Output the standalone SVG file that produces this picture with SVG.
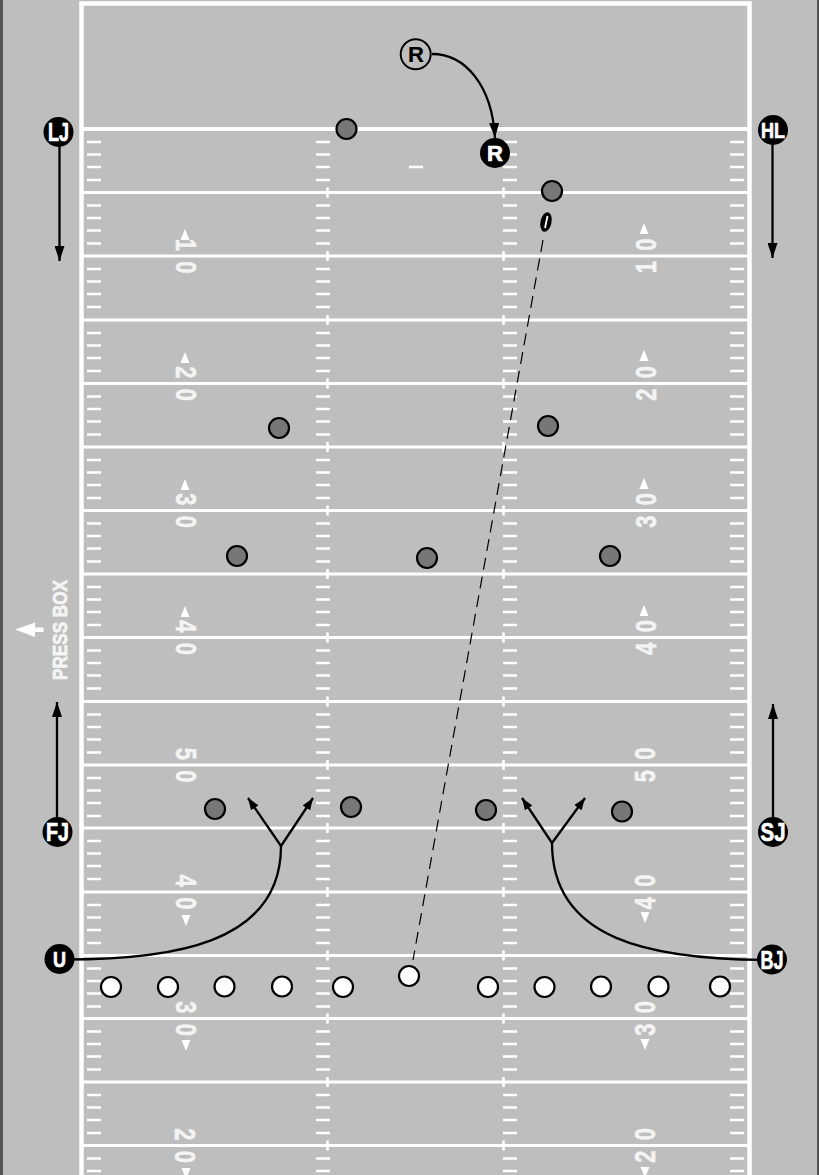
<svg xmlns="http://www.w3.org/2000/svg" xmlns:xlink="http://www.w3.org/1999/xlink" width="819" height="1175" viewBox="0 0 819 1175">
<style>
.yl{stroke:#fff;stroke-width:3;fill:none}
.t{stroke:#fff;stroke-width:2.600;fill:none}
.c{stroke:#000;stroke-width:2.300;fill:none}
.num{font-family:"Liberation Sans",Arial,sans-serif;font-weight:700;font-size:29px;letter-spacing:13.900px;fill:#f4f4f4;stroke:#f4f4f4;stroke-width:.6px}
.tri{fill:#fff}
.def{fill:#777;stroke:#000;stroke-width:2.200}
.off{fill:#fff;stroke:#000;stroke-width:2.200}
.off2{fill:#000}
.lab{font-family:"Liberation Sans",Arial,sans-serif;font-weight:700;fill:#fff;text-anchor:middle;stroke:#fff;stroke-width:.7px}
</style>
<defs>
<marker id="ah" markerUnits="userSpaceOnUse" viewBox="0 0 15 10" refX="15" refY="5" markerWidth="15" markerHeight="10" orient="auto"><path d="M0 0L15 5L0 10Z" fill="#000"/></marker>
<marker id="ahs" markerUnits="userSpaceOnUse" viewBox="0 0 12 9" refX="12" refY="4.5" markerWidth="12" markerHeight="9" orient="auto"><path d="M0 0L12 4.500L0 9Z" fill="#000"/></marker>
<path id="seg" class="t" d="M87 13h14M87 25.500h14M87 38h14M87 51h14M316 13h14M316 25.500h14M316 38h14M316 51h14M503 13h14M503 25.500h14M503 38h14M503 51h14M730 13h14M730 25.500h14M730 38h14M730 51h14"/>
<path id="cross" class="t" d="M327.500 -5v10M503.500 -5v10"/>
<path id="triU" class="tri" d="M0 0L4.500 11H-4.500Z"/>
<path id="triD" class="tri" d="M0 11L4.500 0H-4.500Z"/>
</defs>
<rect width="819" height="1175" fill="#bebebe"/>
<rect x="0" y="0" width="3" height="1175" fill="#555"/>
<rect x="817" y="0" width="2" height="1175" fill="#555"/>
<g id="field">
<path d="M81.500 1175V3.500H749.500V1175" fill="none" stroke="#fff" stroke-width="4.500"/>
<path class="yl" style="stroke-width:4" d="M82 129H748"/>
<path class="yl" d="M82 192.500H748M82 256H748M82 320H748M82 383.500H748M82 447H748M82 510.500H748M82 574H748M82 637.500H748M82 701.500H748M82 765H748M82 828H748M82 892H748M82 955.500H748M82 1018.500H748M82 1082H748M82 1145.500H748"/>
<use href="#seg" y="129"/><use href="#seg" y="192.500"/><use href="#seg" y="256"/><use href="#seg" y="320"/><use href="#seg" y="383.500"/><use href="#seg" y="447"/><use href="#seg" y="510.500"/><use href="#seg" y="574"/><use href="#seg" y="637.500"/><use href="#seg" y="701.500"/><use href="#seg" y="765"/><use href="#seg" y="828"/><use href="#seg" y="892"/><use href="#seg" y="955.500"/><use href="#seg" y="1018.500"/><use href="#seg" y="1082"/><use href="#seg" y="1145.500"/>
<use href="#cross" y="192.500"/><use href="#cross" y="256"/><use href="#cross" y="320"/><use href="#cross" y="383.500"/><use href="#cross" y="447"/><use href="#cross" y="510.500"/><use href="#cross" y="574"/><use href="#cross" y="637.500"/><use href="#cross" y="701.500"/><use href="#cross" y="765"/><use href="#cross" y="828"/><use href="#cross" y="892"/><use href="#cross" y="955.500"/><use href="#cross" y="1018.500"/><use href="#cross" y="1082"/><use href="#cross" y="1145.500"/>
<path class="t" d="M409 167h14"/>
<g class="num">
<text transform="translate(176,256) rotate(90) scale(.75,1)" x="-23.100">10</text>
<text transform="translate(176,383.500) rotate(90) scale(.75,1)" x="-23.100">20</text>
<text transform="translate(176,510.500) rotate(90) scale(.75,1)" x="-23.100">30</text>
<text transform="translate(176,637.500) rotate(90) scale(.75,1)" x="-23.100">40</text>
<text transform="translate(176,765) rotate(90) scale(.75,1)" x="-23.100">50</text>
<text transform="translate(176,892) rotate(90) scale(.75,1)" x="-23.100">40</text>
<text transform="translate(176,1018.500) rotate(90) scale(.75,1)" x="-23.100">30</text>
<text transform="translate(175,1145.500) rotate(90) scale(.75,1)" x="-23.100">20</text>
<text transform="translate(656,256) rotate(-90) scale(.75,1)" x="-23.100">10</text>
<text transform="translate(656,383.500) rotate(-90) scale(.75,1)" x="-23.100">20</text>
<text transform="translate(656,510.500) rotate(-90) scale(.75,1)" x="-23.100">30</text>
<text transform="translate(656,637.500) rotate(-90) scale(.75,1)" x="-23.100">40</text>
<text transform="translate(655,765) rotate(-90) scale(.75,1)" x="-23.100">50</text>
<text transform="translate(655,892) rotate(-90) scale(.75,1)" x="-23.100">40</text>
<text transform="translate(655,1018.500) rotate(-90) scale(.75,1)" x="-23.100">30</text>
<text transform="translate(655,1145.500) rotate(-90) scale(.75,1)" x="-23.100">20</text>
</g>
<use href="#triU" x="185" y="229"/><use href="#triU" x="185" y="352"/><use href="#triU" x="185" y="479"/><use href="#triU" x="185" y="606"/>
<use href="#triD" x="186" y="915"/><use href="#triD" x="186" y="1040"/><use href="#triD" x="186" y="1168"/>
<use href="#triU" x="644" y="223"/><use href="#triU" x="644" y="350"/><use href="#triU" x="644" y="478"/><use href="#triU" x="644" y="605"/>
<use href="#triD" x="645" y="912"/><use href="#triD" x="645" y="1039"/><use href="#triD" x="645" y="1167"/>
</g>
<g id="press-box">
<text transform="translate(67,680) rotate(-90)" font-family="'Liberation Sans',Arial,sans-serif" font-weight="700" font-size="21" fill="#f4f4f4" stroke="#f4f4f4" stroke-width=".8" textLength="100" lengthAdjust="spacingAndGlyphs">PRESS BOX</text>
<path d="M15 629.500L35 622.500V627.500H43.500V632H35V637Z" fill="#fff"/>
</g>
<g id="connectors">
<path class="c" marker-end="url(#ah)" d="M59.500 140V261"/>
<path class="c" marker-end="url(#ah)" d="M772.500 140V258"/>
<path class="c" marker-end="url(#ah)" d="M57 825V702"/>
<path class="c" marker-end="url(#ah)" d="M773 825V704"/>
<path class="c" marker-end="url(#ah)" d="M432 54C465 54 492 85 495 138"/>
<path class="c" d="M60 959.500C170 960 281 945 281 846"/>
<path class="c" marker-end="url(#ahs)" d="M281 846L248 798"/>
<path class="c" marker-end="url(#ahs)" d="M281 846L313 798"/>
<path class="c" d="M772 960C650 960 552 940 552 843"/>
<path class="c" marker-end="url(#ahs)" d="M552 843L522 798"/>
<path class="c" marker-end="url(#ahs)" d="M552 843L585 798"/>
<path d="M543 240L413 960" fill="none" stroke="#000" stroke-width="1.200" stroke-dasharray="12 7"/>
</g>
<g id="ball"><ellipse cx="546" cy="222" rx="5.500" ry="10" transform="rotate(12 546 222)" fill="#000"/><path d="M547.500 216L545 228" stroke="#fff" stroke-width="1.800"/></g>
<g id="def1"><circle class="def" cx="346.500" cy="129" r="10"/></g>
<g id="def2"><circle class="def" cx="552" cy="191" r="10"/></g>
<g id="def3"><circle class="def" cx="279" cy="428" r="10"/></g>
<g id="def4"><circle class="def" cx="548" cy="426" r="10"/></g>
<g id="def5"><circle class="def" cx="237" cy="556" r="10"/></g>
<g id="def6"><circle class="def" cx="427" cy="558" r="10"/></g>
<g id="def7"><circle class="def" cx="610" cy="556" r="10"/></g>
<g id="def8"><circle class="def" cx="215" cy="809" r="10"/></g>
<g id="def9"><circle class="def" cx="351" cy="807" r="10"/></g>
<g id="def10"><circle class="def" cx="486" cy="810" r="10"/></g>
<g id="def11"><circle class="def" cx="622" cy="811.500" r="10"/></g>
<g id="off1"><circle class="off" cx="111" cy="987" r="10"/></g>
<g id="off2"><circle class="off" cx="168" cy="987" r="10"/></g>
<g id="off3"><circle class="off" cx="224.500" cy="986.500" r="10"/></g>
<g id="off4"><circle class="off" cx="282" cy="986.500" r="10"/></g>
<g id="off5"><circle class="off" cx="343" cy="987" r="10"/></g>
<g id="off6"><circle class="off" cx="409" cy="976" r="10"/></g>
<g id="off7"><circle class="off" cx="488" cy="987" r="10"/></g>
<g id="off8"><circle class="off" cx="544.500" cy="987" r="10"/></g>
<g id="off9"><circle class="off" cx="601" cy="986.500" r="10"/></g>
<g id="off10"><circle class="off" cx="658.500" cy="986.500" r="10"/></g>
<g id="off11"><circle class="off" cx="720" cy="986.500" r="10"/></g>
<g id="LJ"><circle class="off2" cx="58.500" cy="132" r="15"/><text class="lab" x="58.500" y="141" font-size="25" textLength="21" lengthAdjust="spacingAndGlyphs">LJ</text></g>
<g id="HL"><circle class="off2" cx="773" cy="130" r="15"/><text class="lab" x="773" y="138" font-size="22" textLength="24" lengthAdjust="spacingAndGlyphs">HL</text></g>
<g id="FJ"><circle class="off2" cx="57.500" cy="832" r="15"/><text class="lab" x="57.500" y="841" font-size="25" textLength="23" lengthAdjust="spacingAndGlyphs">FJ</text></g>
<g id="SJ"><circle class="off2" cx="773" cy="832" r="15"/><text class="lab" x="773" y="841" font-size="25" textLength="25" lengthAdjust="spacingAndGlyphs">SJ</text></g>
<g id="U"><circle class="off2" cx="59.500" cy="959" r="15"/><text class="lab" x="59.500" y="967" font-size="22" textLength="13" lengthAdjust="spacingAndGlyphs">U</text></g>
<g id="BJ"><circle class="off2" cx="772" cy="959.500" r="15"/><text class="lab" x="772" y="968.500" font-size="25" textLength="23" lengthAdjust="spacingAndGlyphs">BJ</text></g>
<g id="R-solid"><circle class="off2" cx="495" cy="153" r="15"/><text class="lab" x="495" y="161" font-size="22">R</text></g>
<g id="R-hollow"><circle cx="415.700" cy="54.300" r="15" fill="#bebebe" stroke="#000" stroke-width="2"/><text class="lab" x="416" y="62" font-size="22" style="fill:#000;stroke:#000;stroke-width:.2px">R</text></g>
</svg>
